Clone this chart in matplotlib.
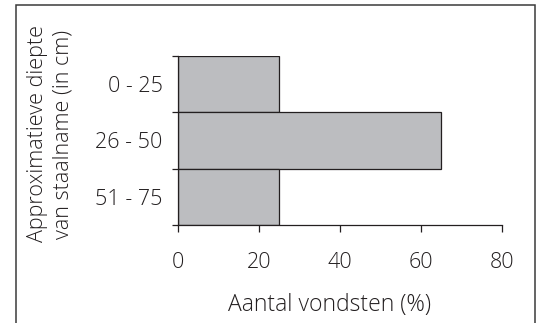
import matplotlib
matplotlib.use("Agg")
import matplotlib.pyplot as plt
from matplotlib.patches import Rectangle

categories = ["0 - 25", "26 - 50", "51 - 75"]
values = [25, 65, 25]
xticks = [0, 20, 40, 60, 80]
ylabel = "Approximatieve diepte\nvan staalname (in cm)"
xlabel = "Aantal vondsten (%)"

txt = "#231f20"
plt.rcParams['font.family'] = ['Open Sans', 'DejaVu Sans']
fs = 15.5

fig = plt.figure(figsize=(5.41, 3.23), dpi=100)
fig.patch.set_facecolor("white")
fig.patches.append(Rectangle((16/541, -0.2), (535-16)/541, 1.2 - 5/323,
                             transform=fig.transFigure, fill=False,
                             edgecolor="#3a3a3a", linewidth=1.1))

ax = fig.add_axes([178/541, 1-225/323, (502-178)/541, (225-56)/323])
pos = list(range(len(categories)))
ax.barh(pos, values, height=1.0, color="#bcbdc0", edgecolor="#231f20", linewidth=0.9)
ax.set_xlim(0, 80)
ax.set_ylim(len(categories) - 0.5, -0.5)

ax.set_xticks(xticks)
ax.set_xticklabels([str(v) for v in xticks])
ax.set_yticks([p - 0.5 for p in pos] + [len(categories) - 0.5])
ax.set_yticklabels([])
ax.set_yticks(pos, minor=True)
ax.set_yticklabels(categories, minor=True)

ax.tick_params(axis='x', length=5, width=0.9, color=txt, pad=14.5, labelsize=fs, labelcolor=txt)
ax.tick_params(axis='y', which='major', length=4, width=0.9, color=txt)
ax.tick_params(axis='y', which='minor', length=0, pad=11, labelsize=fs, labelcolor=txt)
for lab in ax.get_xticklabels() + ax.get_yticklabels(minor=True):
    lab.set_fontweight("light")

for s in ["top", "right"]:
    ax.spines[s].set_visible(False)
for s in ["left", "bottom"]:
    ax.spines[s].set_color(txt)
    ax.spines[s].set_linewidth(0.9)

fig.text(330/541, 1-305/323, xlabel, ha="center", va="center", fontsize=16.5,
         color=txt, fontweight="light")
fig.text(50/541, 1-134/323, ylabel, ha="center", va="center", rotation=90,
         fontsize=fs, color=txt, linespacing=1.3, multialignment="center",
         fontweight="light")

fig.savefig("out.png", dpi=100)
